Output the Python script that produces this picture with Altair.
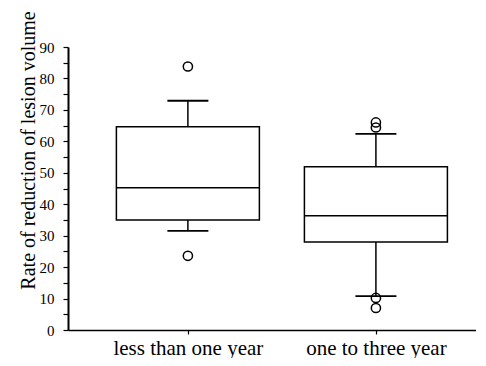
import altair as alt
import pandas as pd

categories = ["less than one year", "one to three year"]
whisker_low = [31.5, 10.8]
q1 = [35.0, 28.0]
median = [45.2, 36.3]
q3 = [64.6, 51.9]
whisker_high = [72.9, 62.4]

outlier_group = ["less than one year", "less than one year",
                 "one to three year", "one to three year",
                 "one to three year", "one to three year"]
outlier_value = [83.8, 23.6, 66.0, 64.4, 10.2, 7.0]

y_ticks = list(range(0, 95, 5))

box = pd.DataFrame({"group": categories, "lo": whisker_low, "q1": q1,
                    "med": median, "q3": q3, "hi": whisker_high})
outl = pd.DataFrame({"group": outlier_group, "value": outlier_value})

FONT = "Liberation Serif"

x_enc = alt.X("group:N", sort=categories,
              scale=alt.Scale(type="point", padding=0.585, align=0.545),
              axis=alt.Axis(title=None, labelAngle=0, labelFontSize=21,
                            labelPadding=3, tickSize=4, labelFont=FONT,
                            domainWidth=1.5, tickWidth=1.2))
y_scale = alt.Scale(domain=[0, 90], nice=False)
y_axis = alt.Axis(title="Rate of reduction of lesion volume", values=y_ticks,
                  labelExpr="datum.value % 10 == 0 ? datum.label : ''",
                  labelOverlap=False, labelFlush=False,
                  grid=False, tickSize=5, labelPadding=9, labelFontSize=15,
                  titleFontSize=20, titleFontWeight="normal",
                  titleX=-34, titleY=103, titleAngle=-90, titleAlign="center",
                  titleBaseline="alphabetic",
                  labelFont=FONT, titleFont=FONT, domainWidth=2, tickWidth=1.2)

base = alt.Chart(box)

whisk = base.mark_rule(color="black", strokeWidth=1.5).encode(
    x=x_enc, y=alt.Y("lo:Q", scale=y_scale, axis=y_axis), y2="hi:Q")

rect = base.mark_bar(size=143, fill="white", stroke="black", strokeWidth=1.5).encode(
    x=x_enc, y=alt.Y("q1:Q", scale=y_scale, axis=y_axis), y2="q3:Q")

med = base.mark_tick(size=143, thickness=1.5, color="black", opacity=1).encode(
    x=x_enc, y=alt.Y("med:Q", scale=y_scale, axis=y_axis))

cap_hi = base.mark_tick(size=41, thickness=1.8, color="black", opacity=1).encode(
    x=x_enc, y=alt.Y("hi:Q", scale=y_scale, axis=y_axis))
cap_lo = base.mark_tick(size=41, thickness=1.8, color="black", opacity=1).encode(
    x=x_enc, y=alt.Y("lo:Q", scale=y_scale, axis=y_axis))

pts = alt.Chart(outl).mark_point(shape="circle", filled=False, size=85,
                                 color="black", strokeWidth=1.5, opacity=1).encode(
    x=x_enc, y=alt.Y("value:Q", scale=y_scale, axis=y_axis))

chart = alt.layer(whisk, rect, med, cap_hi, cap_lo, pts).properties(
    width=408, height=283,
    autosize=alt.AutoSizeParams(type="none"),
    padding={"left": 60, "top": 39, "right": 0, "bottom": 28},
).configure_view(stroke=None).configure_axis(
    domainColor="black", tickColor="black", labelColor="black", titleColor="black",
    labelOverlap=False)

chart.save("out.html", embed_options={"renderer": "svg", "actions": False})
